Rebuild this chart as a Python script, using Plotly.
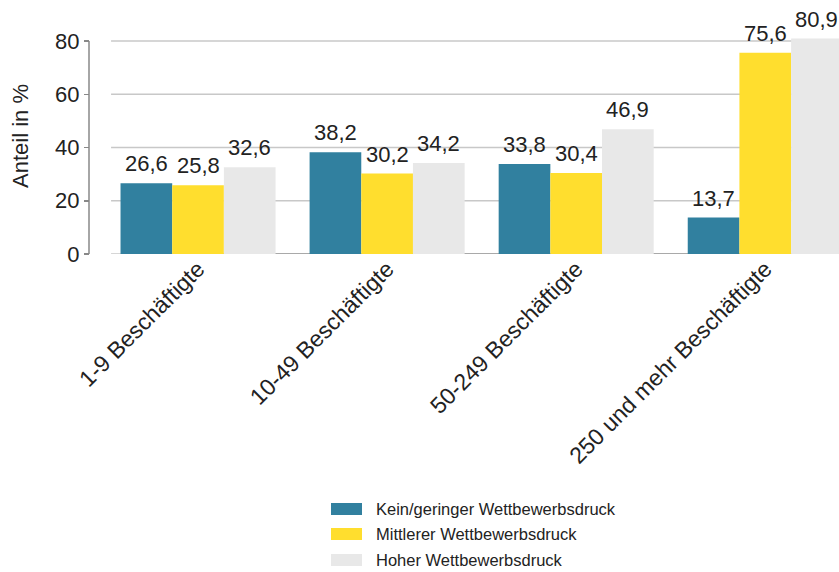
import plotly.graph_objects as go

categories = ["1-9 Beschäftigte", "10-49 Beschäftigte", "50-249 Beschäftigte", "250 und mehr Beschäftigte"]
series_names = ["Kein/geringer Wettbewerbsdruck", "Mittlerer Wettbewerbsdruck", "Hoher Wettbewerbsdruck"]
kein = [26.6, 38.2, 33.8, 13.7]
mittel = [25.8, 30.2, 30.4, 75.6]
hoch = [32.6, 34.2, 46.9, 80.9]
y_ticks = [0, 20, 40, 60, 80]
y_title = "Anteil in %"

colors = ["#31809f", "#ffde2e", "#e8e8e8"]
FONT = "Liberation Sans, Arial, sans-serif"
TXT = "#222222"

W, H = 839, 572
ML = 89
Y0 = 254            # pixel row of value 0
MT = 36
MB = H - Y0
plot_w = W - ML
plot_h = H - MT - MB
BARGAP = 0.18
cat_px = 189
bar_px = cat_px * (1 - BARGAP) / 3


def px(x):
    return (x - ML) / plot_w


def py(y):
    return (Y0 - y) / plot_h


fig = go.Figure()
annotations = []
for i, (name, vals, col) in enumerate(zip(series_names, [kein, mittel, hoch], colors)):
    fig.add_trace(go.Bar(
        x=categories, y=vals, name=name, marker_color=col, marker_line_width=0,
        showlegend=False,
    ))
    for c, v in zip(categories, vals):
        annotations.append(dict(
            x=c, y=v, xref="x", yref="y", text=f"{v:.1f}".replace(".", ","),
            showarrow=False, xanchor="center", yanchor="bottom",
            xshift=(i - 1) * bar_px, yshift=5,
            font=dict(size=22, color=TXT, family=FONT)))

shapes = []
for t in y_ticks:
    shapes.append(dict(type="line", xref="x", yref="y", x0=-0.46, x1=3.45, y0=t, y1=t,
                       line=dict(color="#c8c8c8", width=1.5), layer="below"))
shapes.append(dict(type="line", xref="x", yref="y", x0=0, x1=3.45, y0=0, y1=0,
                   line=dict(color="#9a9a9a", width=1.5), layer="below"))
shapes.append(dict(type="line", xref="paper", yref="y", x0=0, x1=0, y0=y_ticks[0], y1=y_ticks[-1],
                   line=dict(color="#888888", width=1.5)))

annotations.append(dict(text=y_title, xref="paper", yref="paper", x=px(20), y=py(136),
                        textangle=-90, showarrow=False,
                        font=dict(size=22, color=TXT, family=FONT), xanchor="center", yanchor="middle"))

leg_y = [509, 534, 560]
for name, col, ly in zip(series_names, colors, leg_y):
    shapes.append(dict(type="rect", xref="paper", yref="paper",
                       x0=px(331), x1=px(362), y0=py(ly + 6), y1=py(ly - 6),
                       fillcolor=col, line=dict(width=0)))
    annotations.append(dict(text=name, xref="paper", yref="paper", x=px(374), y=py(ly),
                            showarrow=False, xanchor="left", yanchor="middle",
                            font=dict(size=16.5, color=TXT, family=FONT)))

fig.update_layout(
    width=W, height=H,
    margin=dict(l=ML, r=0, t=MT, b=MB, autoexpand=False),
    paper_bgcolor="white", plot_bgcolor="white",
    barmode="group", bargap=BARGAP, bargroupgap=0,
    hovermode=False,
    font=dict(family=FONT, color=TXT),
    xaxis=dict(domain=[px(103.5), 1], range=[-0.5, 3.39], showgrid=False, showline=False, zeroline=False,
               tickangle=-45, tickfont=dict(size=23, color=TXT, family=FONT), automargin=False,
               ticks="", ticklabelstandoff=-4),
    yaxis=dict(range=[0, (Y0 - MT) / ((254 - 41) / 80)], anchor="free", position=0,
               showgrid=False, zeroline=False, showline=False,
               tickvals=y_ticks, ticks="outside", ticklen=5, tickcolor="#888888", tickwidth=1.5,
               tickfont=dict(size=22, color=TXT, family=FONT), automargin=False),
    shapes=shapes, annotations=annotations,
)

fig.write_html("out.html", config={"displayModeBar": False, "staticPlot": True},
               post_script="document.body.style.margin='0';document.body.style.overflow='hidden';")
